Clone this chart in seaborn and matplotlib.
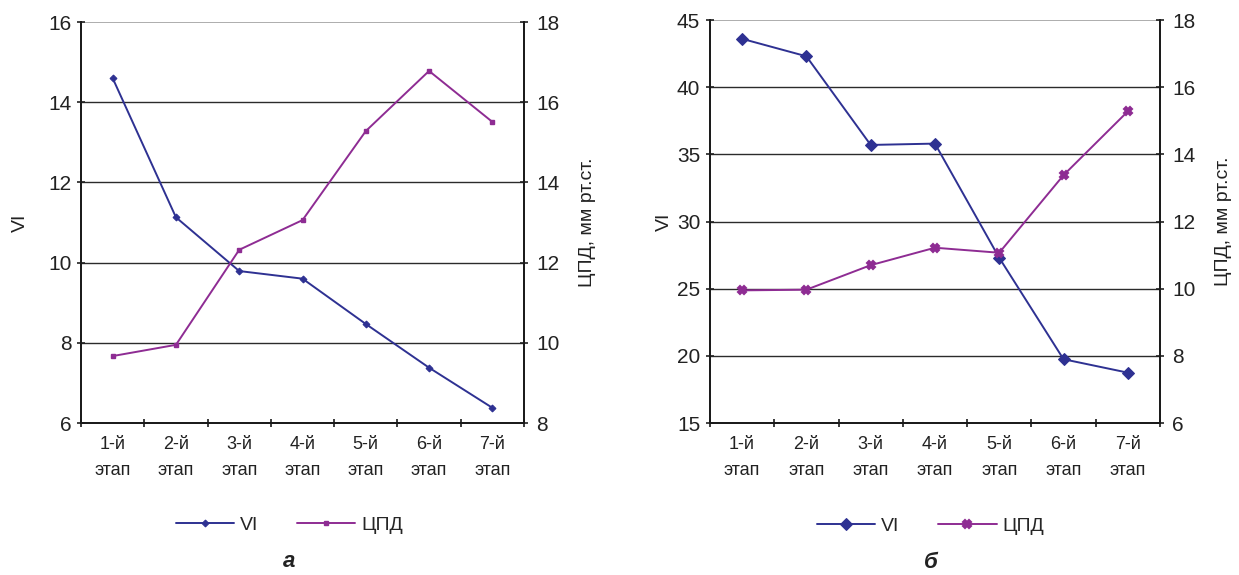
import matplotlib
matplotlib.use("Agg")
import matplotlib.pyplot as plt
import seaborn as sns
import pandas as pd
from matplotlib.ticker import FixedLocator

sns.set_theme(style="white")
plt.rcParams["font.family"] = ["Liberation Sans", "DejaVu Sans"]

stages = ["1-й\nэтап", "2-й\nэтап", "3-й\nэтап", "4-й\nэтап", "5-й\nэтап", "6-й\nэтап", "7-й\nэтап"]

# panel а
vi_a = [14.6, 11.13, 9.79, 9.6, 8.47, 7.38, 6.38]
cpd_a = [9.67, 9.95, 12.32, 13.06, 15.28, 16.78, 15.51]

# panel б
vi_b = [43.6, 42.3, 35.7, 35.8, 27.3, 19.75, 18.75]
cpd_b = [9.95, 9.97, 10.7, 11.22, 11.07, 13.38, 15.28]

VI_COLOR = "#2e3192"
CPD_COLOR = "#8e2c93"
GRID_COLOR = "#2b2b2b"


def draw_panel(ax, vi, cpd, ylim_l, yt_l, ylim_r, yt_r, vi_marker, cpd_marker, vi_ms, cpd_ms,
               letter, legend_x, pads):
    df = pd.DataFrame({"stage": stages, "VI": vi, "ЦПД": cpd})
    ax2 = ax.twinx()
    for y in yt_l[1:-1]:
        ax.axhline(y, color=GRID_COLOR, lw=1.0, zorder=0)
    ax.axhline(yt_l[-1], color="#a0a0a0", lw=1.2, zorder=0)

    sns.lineplot(data=df, x="stage", y="VI", ax=ax, color=VI_COLOR, lw=1.4,
                 marker=vi_marker, markersize=vi_ms, markeredgecolor=VI_COLOR,
                 label="VI", legend=False, sort=False)
    sns.lineplot(data=df, x="stage", y="ЦПД", ax=ax2, color=CPD_COLOR, lw=1.4,
                 marker=cpd_marker, markersize=cpd_ms, markeredgecolor=CPD_COLOR,
                 markeredgewidth=1.5 if cpd_marker == "X" else 1.0,
                 label="ЦПД", legend=False, sort=False)

    for a in (ax, ax2):
        a.set_xlim(-0.5, 6.5)
        a.spines["top"].set_visible(False)
        for s in ("left", "right", "bottom"):
            a.spines[s].set_color("#1a1a1a")
            a.spines[s].set_linewidth(1.3)
    ax.set_ylim(*ylim_l)
    ax.set_yticks(yt_l)
    ax2.set_ylim(*ylim_r)
    ax2.set_yticks(yt_r)
    ax.set_xticks(range(7))
    ax.set_xticklabels(stages)
    ax.xaxis.set_minor_locator(FixedLocator([i - 0.5 for i in range(8)]))
    ax.tick_params(axis="x", which="major", length=0, pad=9, labelsize=13, colors="#222222")
    ax.tick_params(axis="x", which="minor", length=6, width=1.2, direction="inout", color="#1a1a1a", bottom=True)
    ax.tick_params(axis="y", length=6, width=1.2, direction="inout", labelsize=15, colors="#222222", pad=4, left=True)
    ax2.tick_params(axis="y", length=6, width=1.2, direction="inout", labelsize=15, colors="#222222", pad=6, right=True)
    for lab in ax.get_xticklabels():
        lab.set_linespacing(1.75)
    ax.set_xlabel("")
    ax.set_ylabel("VI", fontsize=14, color="#222222", labelpad=pads[0])
    ax2.set_ylabel("ЦПД, мм рт.ст.", fontsize=14, color="#222222", labelpad=pads[1])
    ax.grid(False)
    ax2.grid(False)

    h1, l1 = ax.get_legend_handles_labels()
    h2, l2 = ax2.get_legend_handles_labels()
    ax.legend(h1 + h2, l1 + l2, loc="center", bbox_to_anchor=(legend_x, -0.255),
              ncol=2, frameon=False, fontsize=14, handlelength=3.0, columnspacing=2.0,
              handletextpad=0.3)
    ax.text(legend_x, -0.345, letter, transform=ax.transAxes, ha="center", va="center",
            fontsize=16, fontweight="bold", fontstyle="italic", color="#222222")


fig = plt.figure(figsize=(12.39, 5.75), dpi=100)
ax_a = fig.add_axes([0.0654, 0.2643, 0.3575, 0.6974])
ax_b = fig.add_axes([0.5730, 0.2643, 0.3632, 0.7009])

draw_panel(ax_a, vi_a, cpd_a, (6, 16), [6, 8, 10, 12, 14, 16], (8, 18), [8, 10, 12, 14, 16, 18],
           "D", "s", 3.5, 3.5, "а", 0.47, (14, 14))
draw_panel(ax_b, vi_b, cpd_b, (15, 45), [15, 20, 25, 30, 35, 40, 45], (6, 18), [6, 8, 10, 12, 14, 16, 18],
           "D", "X", 6, 6, "б", 0.49, (3, 14))

fig.savefig("out.png", dpi=100, facecolor="white")
